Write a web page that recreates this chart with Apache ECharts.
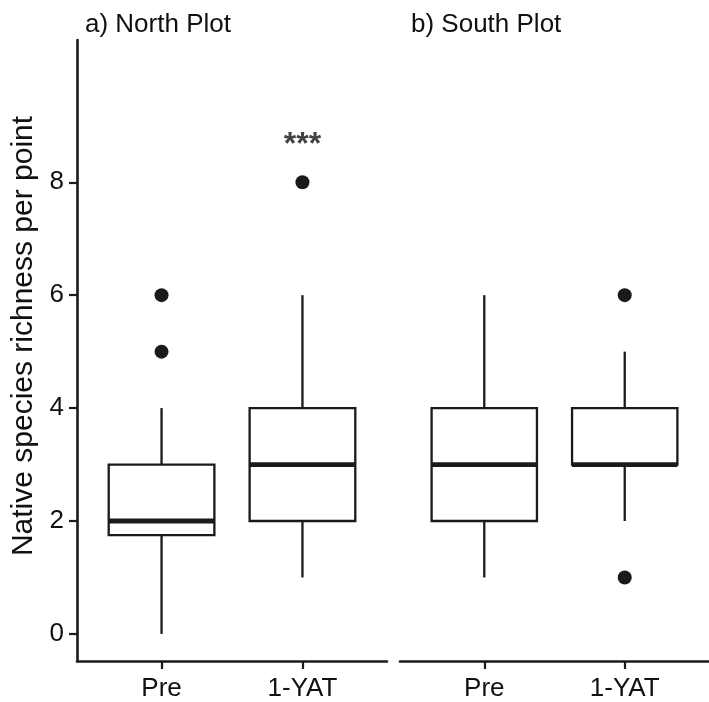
<!DOCTYPE html>
<html lang="en">
  <head>
    <meta charset="UTF-8" />
    <title>Native species richness boxplots</title>
    <script src="https://cdnjs.cloudflare.com/ajax/libs/echarts/6.0.0/echarts.min.js"></script>
    <style>
      html, body { margin: 0; padding: 0; background: #fff; }
      #main { width: 709px; height: 702px; }
    </style>
  </head>
  <body>
    <div id="main"></div>
    <script type="text/javascript">
      // data
      const categories = ["Pre", "1-YAT"];
      const yTicks = [0, 2, 4, 6, 8];
      // [min whisker, Q1, median, Q3, max whisker]
      const northStats = [
        [0, 1.75, 2, 3, 4],
        [1, 2, 3, 4, 6],
      ];
      const southStats = [
        [1, 2, 3, 4, 6],
        [2, 3, 3, 4, 5],
      ];
      // [category position, value]
      const northOutliers = [[1, 5], [1, 6], [2, 8]];
      const southOutliers = [[2, 6], [2, 1]];
      const northSignif = [[2, 8.65, "***"]];

      const FONT = "Liberation Sans, Arial, sans-serif";
      const INK = "#1a1a1a";
      const TXT = "#111";

      var myChart = echarts.init(document.getElementById("main"));

      function boxItem(params, api) {
        var x = api.value(0);
        var pMin = api.coord([x, api.value(1)]);
        var pQ1 = api.coord([x, api.value(2)]);
        var pMed = api.coord([x, api.value(3)]);
        var pQ3 = api.coord([x, api.value(4)]);
        var pMax = api.coord([x, api.value(5)]);
        var half = api.size([0.75, 0])[0] / 2;
        var lw = 2.3;
        var line = { stroke: INK, lineWidth: lw };
        return {
          type: "group",
          children: [
            { type: "line", shape: { x1: pMax[0], y1: pMax[1], x2: pQ3[0], y2: pQ3[1] }, style: line },
            { type: "line", shape: { x1: pQ1[0], y1: pQ1[1], x2: pMin[0], y2: pMin[1] }, style: line },
            {
              type: "rect",
              shape: { x: pQ3[0] - half, y: pQ3[1], width: half * 2, height: pQ1[1] - pQ3[1] },
              style: { fill: "#fff", stroke: INK, lineWidth: lw },
            },
            {
              type: "line",
              shape: { x1: pMed[0] - half, y1: pMed[1], x2: pMed[0] + half, y2: pMed[1] },
              style: { stroke: INK, lineWidth: 4.8 },
            },
          ],
        };
      }

      function toBoxData(stats) {
        return stats.map(function (s, i) {
          return [i + 1].concat(s);
        });
      }

      function xAxisFor(gridIndex) {
        return {
          type: "value",
          gridIndex: gridIndex,
          min: 0.4,
          max: 2.6,
          splitLine: { show: false },
          axisLine: { show: true, onZero: false, lineStyle: { color: INK, width: 2.6 } },
          axisTick: { show: true, customValues: [1, 2], length: 8, lineStyle: { color: INK, width: 2.2 } },
          axisLabel: {
            customValues: [1, 2],
            formatter: function (v) { return categories[Math.round(v) - 1]; },
            color: TXT,
            fontFamily: FONT,
            fontSize: 26,
            margin: 15,
          },
        };
      }

      function yAxisFor(gridIndex, visible) {
        return {
          type: "value",
          gridIndex: gridIndex,
          min: -0.48,
          max: 10.52,
          show: visible,
          splitLine: { show: false },
          axisLine: { show: true, lineStyle: { color: INK, width: 2.6 } },
          axisTick: { show: true, customValues: yTicks, length: 8, lineStyle: { color: INK, width: 2.2 } },
          axisLabel: {
            customValues: yTicks,
            color: TXT,
            fontFamily: FONT,
            fontSize: 26,
            margin: 13,
          },
        };
      }

      var titleStyle = { fontFamily: FONT, fontSize: 26, fontWeight: "normal", color: TXT };

      var option = {
        animation: false,
        backgroundColor: "#fff",
        title: [
          { text: "a) North Plot", left: 85, top: 12, padding: 0, textStyle: titleStyle },
          { text: "b) South Plot", left: 411, top: 12, padding: 0, textStyle: titleStyle },
        ],
        graphic: [
          {
            type: "text",
            x: 24,
            y: 336,
            rotation: Math.PI / 2,
            style: {
              text: "Native species richness per point",
              fontFamily: FONT,
              fontSize: 30,
              fill: TXT,
              align: "center",
              verticalAlign: "middle",
            },
          },
        ],
        grid: [
          { left: 77, width: 310, top: 40, bottom: 41 },
          { left: 400, width: 309, top: 40, bottom: 41 },
        ],
        xAxis: [xAxisFor(0), xAxisFor(1)],
        yAxis: [yAxisFor(0, true), yAxisFor(1, false)],
        series: [
          {
            name: "North",
            type: "custom",
            xAxisIndex: 0,
            yAxisIndex: 0,
            renderItem: boxItem,
            encode: { x: 0, y: [1, 2, 3, 4, 5] },
            data: toBoxData(northStats),
            z: 2,
          },
          {
            name: "South",
            type: "custom",
            xAxisIndex: 1,
            yAxisIndex: 1,
            renderItem: boxItem,
            encode: { x: 0, y: [1, 2, 3, 4, 5] },
            data: toBoxData(southStats),
            z: 2,
          },
          {
            name: "North outliers",
            type: "scatter",
            xAxisIndex: 0,
            yAxisIndex: 0,
            symbolSize: 14,
            itemStyle: { color: INK, opacity: 1 },
            data: northOutliers,
            z: 3,
          },
          {
            name: "South outliers",
            type: "scatter",
            xAxisIndex: 1,
            yAxisIndex: 1,
            symbolSize: 14,
            itemStyle: { color: INK, opacity: 1 },
            data: southOutliers,
            z: 3,
          },
          {
            name: "Significance",
            type: "scatter",
            xAxisIndex: 0,
            yAxisIndex: 0,
            symbolSize: 0,
            label: {
              show: true,
              position: "inside",
              formatter: function (p) { return p.data[2]; },
              fontFamily: FONT,
              fontSize: 32,
              fontWeight: "bold",
              color: TXT,
            },
            data: northSignif,
          },
        ],
      };
      myChart.setOption(option);
    </script>
  </body>
</html>
